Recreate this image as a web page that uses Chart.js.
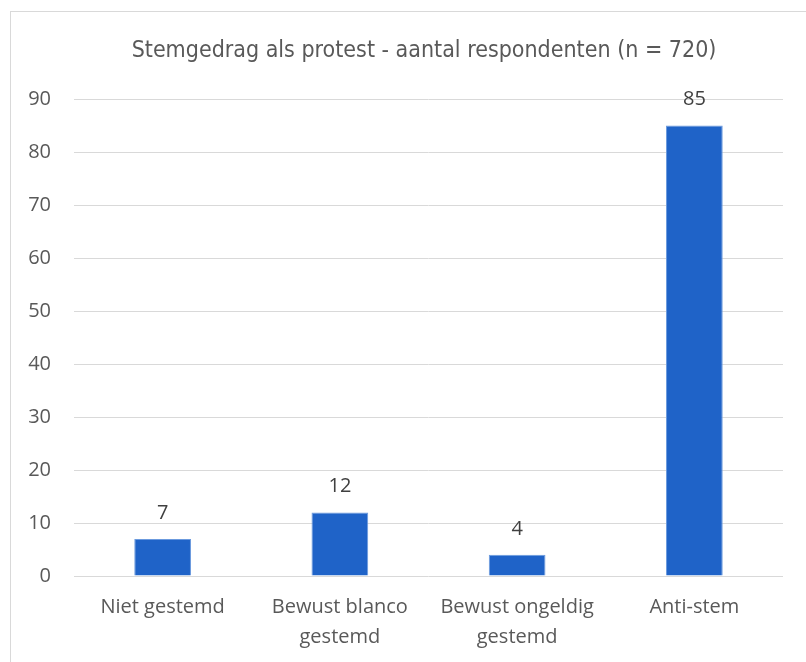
<!DOCTYPE html>
<html lang="nl">
<head>
    <meta charset="UTF-8">
    <title>Stemgedrag als protest</title>
    <script src="https://cdn.jsdelivr.net/npm/chart.js@4.4.0/dist/chart.umd.min.js"></script>
    <style>
        * { margin: 0; padding: 0; box-sizing: border-box; }
        body { background: #fff; width: 806px; height: 662px; overflow: hidden; position: relative; }
        .frame {
            position: absolute; left: 10px; top: 11px; width: 810px; height: 700px;
            border: 1px solid #d9d9d9;
        }
        .wrap { position: absolute; left: 0; top: 0; width: 806px; height: 662px; }
    </style>
</head>
<body>
    <div class="frame"></div>
    <div class="wrap"><canvas id="chart"></canvas></div>
    <script>
        const categories = ['Niet gestemd', ['Bewust blanco', 'gestemd'], ['Bewust ongeldig', 'gestemd'], 'Anti-stem'];
        const respondents = [7, 12, 4, 85];
        const yTicks = [0, 10, 20, 30, 40, 50, 60, 70, 80, 90];
        const titleText = 'Stemgedrag als protest - aantal respondenten (n = 720)';

        const labelFont = "'Open Sans', 'Noto Sans', sans-serif";

        // value labels above the bars
        const valueLabels = {
            id: 'valueLabels',
            afterDatasetsDraw(chart) {
                const ctx = chart.ctx;
                const meta = chart.getDatasetMeta(0);
                ctx.save();
                ctx.font = '20px ' + labelFont;
                ctx.fillStyle = '#404040';
                ctx.textAlign = 'center';
                ctx.textBaseline = 'middle';
                meta.data.forEach((bar, i) => {
                    ctx.fillText(String(respondents[i]), bar.x, bar.y - 26);
                });
                ctx.restore();
            }
        };

        // title is centred on the chart frame, not on the canvas
        const frameTitle = {
            id: 'frameTitle',
            afterDraw(chart) {
                const ctx = chart.ctx;
                ctx.save();
                ctx.font = "23px 'DejaVu Sans Condensed', 'Roboto', sans-serif";
                ctx.fillStyle = '#595959';
                ctx.textAlign = 'center';
                ctx.textBaseline = 'middle';
                ctx.fillText(titleText, 424, 51);
                ctx.restore();
            }
        };

        new Chart(document.getElementById('chart'), {
            type: 'bar',
            data: {
                labels: categories,
                datasets: [{
                    data: respondents,
                    backgroundColor: '#1f63c8',
                    borderColor: '#6b9ade',
                    borderWidth: 1,
                    barPercentage: 0.32,
                    categoryPercentage: 1
                }]
            },
            options: {
                responsive: true,
                maintainAspectRatio: false,
                animation: false,
                layout: { padding: { left: 0, right: 23, top: 99, bottom: 0 } },
                plugins: {
                    legend: { display: false },
                    tooltip: { enabled: false },
                    title: { display: false }
                },
                scales: {
                    x: {
                        grid: { display: false, drawTicks: false },
                        border: { display: false },
                        ticks: {
                            color: '#595959',
                            padding: 16,
                            maxRotation: 0,
                            font: { family: labelFont, size: 20, lineHeight: 1.5 }
                        },
                        afterFit(scale) { scale.height = 86; }
                    },
                    y: {
                        min: 0,
                        max: 90,
                        afterBuildTicks(scale) { scale.ticks = yTicks.map(v => ({ value: v })); },
                        grid: { color: '#d9d9d9', lineWidth: 1, drawTicks: false },
                        border: { display: false },
                        ticks: {
                            color: '#595959',
                            padding: 23,
                            font: { family: labelFont, size: 20 }
                        },
                        afterFit(scale) { scale.width = 74; }
                    }
                }
            },
            plugins: [valueLabels, frameTitle]
        });
    </script>
</body>
</html>
